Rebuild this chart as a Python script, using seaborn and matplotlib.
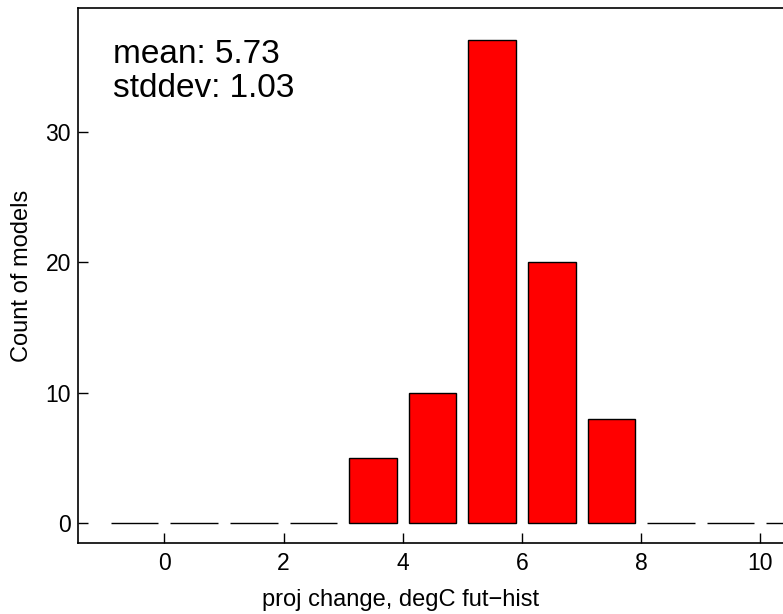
import matplotlib
matplotlib.use("Agg")
import matplotlib.pyplot as plt
import seaborn as sns
import numpy as np
import pandas as pd

# bin centres (1 degC bins) and model counts
bin_centers = [-0.5, 0.5, 1.5, 2.5, 3.5, 4.5, 5.5, 6.5, 7.5, 8.5, 9.5, 10.5]
counts = [0, 0, 0, 0, 5, 10, 37, 20, 8, 0, 0, 0]
x_ticks = [0, 2, 4, 6, 8, 10]
y_ticks = [0, 10, 20, 30]
mean_val = 5.73
std_val = 1.03

df = pd.DataFrame({"center": bin_centers, "count": counts})

sns.set_style("white")
plt.rcParams["font.family"] = ["Liberation Sans", "DejaVu Sans"]

fig = plt.figure(figsize=(7.83, 6.14), dpi=100)
# axes box runs off the right edge of the picture, like the original
ax = fig.add_axes([0.0995, 0.1161, 0.982, 0.8704])

sns.barplot(data=df, x="center", y="count", native_scale=True, width=0.8,
            color="red", saturation=1, edgecolor="black", linewidth=1.0, ax=ax)

ax.set_xlim(-1.45, 11.45)
ax.set_ylim(-1.49, 39.46)
ax.set_xticks(x_ticks)
ax.set_xticklabels([str(t) for t in x_ticks])
ax.set_yticks(y_ticks)
ax.set_yticklabels([str(t) for t in y_ticks])
ax.tick_params(axis="both", direction="in", length=7.5, width=1.0,
               labelsize=16.5, color="black", labelcolor="black",
               bottom=True, left=True, top=False, right=False)
ax.tick_params(axis="x", pad=6.5)
ax.tick_params(axis="y", pad=5)

for s in ax.spines.values():
    s.set_visible(True)
    s.set_color("black")
    s.set_linewidth(1.2)

ax.set_xlabel("proj change, degC fut\u2212hist", fontsize=17, color="black")
ax.set_ylabel("Count of models", fontsize=17, color="black")
ax.xaxis.set_label_coords(0.419, -0.086)
ax.yaxis.set_label_coords(-0.058, 0.5)

ax.text(0.0457, 0.8976, f"mean: {mean_val:.2f}", transform=ax.transAxes,
        fontsize=24, va="baseline", ha="left", color="black")
ax.text(0.0457, 0.834, f"stddev: {std_val:.2f}", transform=ax.transAxes,
        fontsize=24, va="baseline", ha="left", color="black")

fig.savefig("out.png", dpi=100)
